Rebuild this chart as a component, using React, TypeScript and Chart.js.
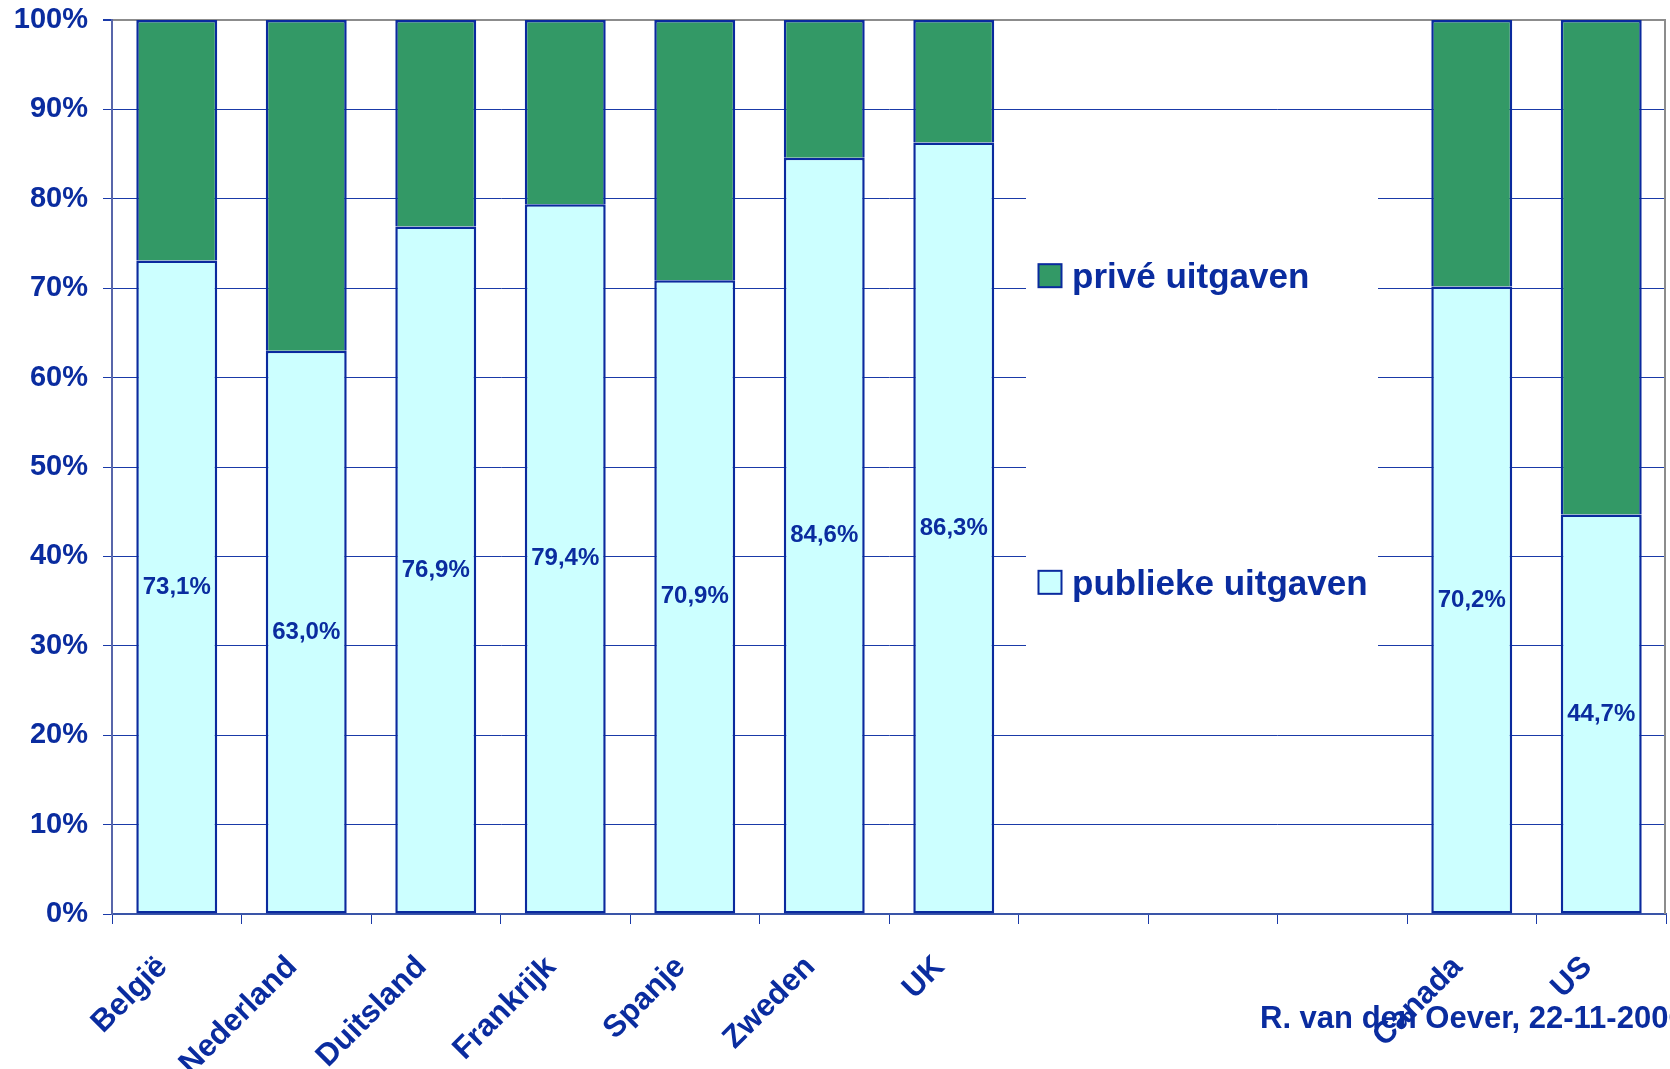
import React, { useEffect, useRef } from 'react';
import { Chart, registerables } from 'chart.js';

Chart.register(...registerables);

// ---- data ----
const categories = ['België', 'Nederland', 'Duitsland', 'Frankrijk', 'Spanje', 'Zweden', 'UK', '', '', '', 'Canada', 'US'];
const publicShare = [73.1, 63.0, 76.9, 79.4, 70.9, 84.6, 86.3, null, null, null, 70.2, 44.7];
const privateShare = [26.9, 37.0, 23.1, 20.6, 29.1, 15.4, 13.7, null, null, null, 29.8, 55.3];
const seriesNames = ['publieke uitgaven', 'privé uitgaven'];
const yTickValues = [0, 10, 20, 30, 40, 50, 60, 70, 80, 90, 100];
const footerText = 'R. van den Oever, 22-11-2006';

// ---- style ----
const FONT = 'Arial, "Liberation Sans", sans-serif';
const TEXT = '#0A2C9F';
const GREEN = '#339966';
const CYAN = '#CCFFFF';
const EDGE = '#0A2A9E';
const GRID = '#1A3AA8';

const fmt = (v: number) => v.toFixed(1).replace('.', ',') + '%';

const overlayPlugin = {
  id: 'overlay',
  afterDatasetsDraw(chart: any) {
    const { ctx, chartArea, scales } = chart;
    const x = scales.x;
    const y = scales.y;
    ctx.save();
    // right plot border
    ctx.strokeStyle = '#8C8C8C';
    ctx.lineWidth = 2;
    ctx.beginPath();
    ctx.moveTo(chartArea.right - 1, chartArea.top);
    ctx.lineTo(chartArea.right - 1, chartArea.bottom);
    ctx.stroke();

    // data labels on public share
    const meta = chart.getDatasetMeta(0);
    ctx.font = `bold 24px ${FONT}`;
    ctx.fillStyle = TEXT;
    ctx.textAlign = 'center';
    ctx.textBaseline = 'middle';
    meta.data.forEach((el: any, i: number) => {
      const v = publicShare[i];
      if (v == null) return;
      const p = el.getProps(['x', 'y', 'base'], true);
      ctx.fillText(fmt(v), p.x, (p.y + p.base) / 2);
    });

    // legend inside plot area
    const step = x.getPixelForValue(1) - x.getPixelForValue(0);
    const catLeft = x.getPixelForValue(7) - step / 2;
    const boxL = catLeft + 7.5;
    const boxR = x.getPixelForValue(9) + step / 2 - 29;
    const boxT = y.getPixelForValue(85);
    const boxB = y.getPixelForValue(25);
    ctx.fillStyle = '#ffffff';
    ctx.fillRect(boxL, boxT, boxR - boxL, boxB - boxT);
    const items = [
      { name: seriesNames[1], color: GREEN, at: 71.4 },
      { name: seriesNames[0], color: CYAN, at: 37.1 },
    ];
    items.forEach((it) => {
      const cy = y.getPixelForValue(it.at);
      const sx = catLeft + 20;
      ctx.fillStyle = it.color;
      ctx.fillRect(sx, cy - 11.5, 23, 23);
      ctx.strokeStyle = EDGE;
      ctx.lineWidth = 2;
      ctx.strokeRect(sx, cy - 11.5, 23, 23);
      ctx.fillStyle = TEXT;
      ctx.font = `bold 35px ${FONT}`;
      ctx.textAlign = 'left';
      ctx.textBaseline = 'alphabetic';
      ctx.fillText(it.name, catLeft + 53.5, cy + 12.5);
    });
    ctx.restore();
  },
  afterDraw(chart: any) {
    const { ctx, width } = chart;
    ctx.save();
    ctx.fillStyle = TEXT;
    ctx.font = `bold 31px ${FONT}`;
    ctx.textAlign = 'left';
    ctx.textBaseline = 'alphabetic';
    ctx.fillText(footerText, width - 410, 1028);
    ctx.restore();
  },
};

export default function App() {
  const ref = useRef<HTMLCanvasElement>(null);

  useEffect(() => {
    if (!ref.current) return;
    const chart = new Chart(ref.current, {
      type: 'bar',
      data: {
        labels: categories,
        datasets: [
          {
            label: seriesNames[0],
            data: publicShare as any,
            backgroundColor: CYAN,
            borderColor: EDGE,
            borderWidth: 2.5,
            borderSkipped: false,
            barPercentage: 0.625,
            categoryPercentage: 1,
          },
          {
            label: seriesNames[1],
            data: privateShare as any,
            backgroundColor: GREEN,
            borderColor: EDGE,
            borderWidth: 2.5,
            borderSkipped: 'bottom',
            barPercentage: 0.625,
            categoryPercentage: 1,
          },
        ],
      },
      options: {
        responsive: false,
        animation: false,
        devicePixelRatio: 1,
        layout: { padding: { top: 20, right: 4, left: 0, bottom: 0 } },
        plugins: {
          legend: { display: false },
          tooltip: { enabled: false },
          title: { display: false },
        },
        scales: {
          x: {
            stacked: true,
            grid: {
              display: true,
              drawOnChartArea: false,
              offset: true,
              tickLength: 10,
              tickColor: GRID,
              color: GRID,
            },
            border: { display: true, color: '#3A55A8', width: 2 },
            ticks: {
              autoSkip: false,
              minRotation: 45,
              maxRotation: 45,
              padding: 25,
              labelOffset: -14,
              color: TEXT,
              font: { family: FONT, size: 31, weight: 'bold' },
            },
            afterFit: (s: any) => {
              s.height = 155;
            },
          },
          y: {
            stacked: true,
            min: 0,
            max: 100,
            afterBuildTicks: (s: any) => {
              s.ticks = yTickValues.map((v) => ({ value: v }));
            },
            grid: {
              color: (c: any) => (c.tick && c.tick.value === 100 ? '#8C8C8C' : c.tick && c.tick.value === 0 ? '#7080B0' : GRID),
              lineWidth: (c: any) => (c.tick && c.tick.value === 100 ? 2 : 1),
              tickColor: GRID,
              tickLength: 9,
            },
            border: { display: true, color: '#5866AA', width: 2 },
            ticks: {
              padding: 15,
              color: TEXT,
              font: { family: FONT, size: 29, weight: 'bold' },
              callback: (v: any) => v + '%',
            },
            afterFit: (s: any) => {
              s.width = 112;
              s.paddingTop = 0;
              s.paddingBottom = 0;
            },
          },
        },
      },
      plugins: [overlayPlugin],
    });
    return () => chart.destroy();
  }, []);

  return (
    <div style={{ position: 'absolute', left: 0, top: 0, width: 1670, height: 1069, background: '#fff' }}>
      <canvas ref={ref} width={1670} height={1069} style={{ display: 'block' }} />
    </div>
  );
}
